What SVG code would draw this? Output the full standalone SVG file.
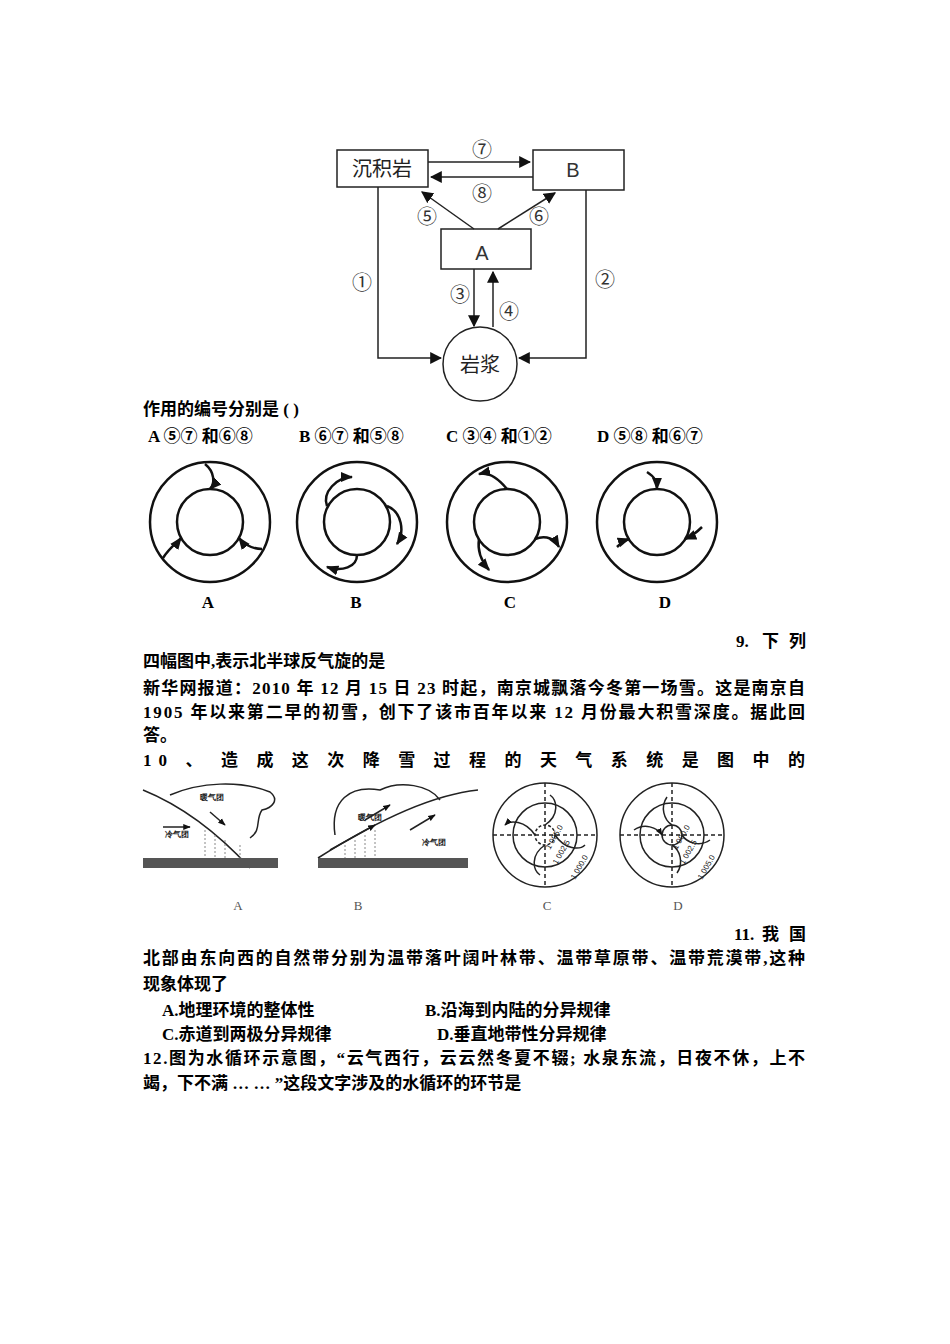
<svg xmlns="http://www.w3.org/2000/svg" width="950" height="1344" viewBox="0 0 950 1344">
<style>
.t{font-family:"Liberation Serif","Noto Sans CJK SC",serif;font-size:17px;font-weight:bold;fill:#000}
.d{font-family:"Noto Sans CJK SC",sans-serif;font-size:20px;fill:#222}
.n{font-family:"Liberation Sans","Noto Sans CJK SC",sans-serif;font-size:20px;fill:#333}
.s{fill:none;stroke:#222;stroke-width:1.5}
.th{fill:none;stroke:#111;stroke-width:2.5}
.sm{font-family:"Liberation Sans",sans-serif;font-size:8px;fill:#222}
.lb{font-family:"Liberation Serif",serif;font-size:13px;fill:#555}
</style>
<defs>
<marker id="a" viewBox="0 0 10 10" refX="9" refY="5" markerWidth="8" markerHeight="8" orient="auto"><path d="M0,0L10,5L0,10z" fill="#111"/></marker>
<marker id="b" viewBox="0 0 10 10" refX="9" refY="5" markerWidth="5" markerHeight="5" orient="auto"><path d="M0,1L10,5L0,9z" fill="#111"/></marker>
</defs>
<rect width="950" height="1344" fill="#fff"/>
<g id="n-sed"><rect x="337" y="150" width="91" height="37" class="s"/><text x="382" y="176" class="d" text-anchor="middle">沉积岩</text></g>
<g id="n-B"><rect x="533" y="150" width="91" height="40" class="s"/><text x="573" y="177" class="n" text-anchor="middle">B</text></g>
<g id="n-A"><rect x="441" y="229" width="90" height="40" class="s"/><text x="482" y="260" class="n" text-anchor="middle">A</text></g>
<g id="n-magma"><circle cx="480" cy="364" r="37" class="s"/><text x="480" y="372" class="d" text-anchor="middle">岩浆</text></g>
<g id="connectors" class="s">
<path d="M428,162H530" marker-end="url(#a)"/>
<path d="M533,177H431" marker-end="url(#a)"/>
<path d="M474,229L422,192" marker-end="url(#a)"/>
<path d="M498,229L555,193" marker-end="url(#a)"/>
<path d="M378,187V358H441" marker-end="url(#a)"/>
<path d="M586,190V358H519" marker-end="url(#a)"/>
<path d="M474,269V326" marker-end="url(#a)"/>
<path d="M493,327V272" marker-end="url(#a)"/>
</g>
<g class="n" font-size="26">
<text x="482" y="157" text-anchor="middle">⑦</text>
<text x="482" y="201" text-anchor="middle">⑧</text>
<text x="427" y="224" text-anchor="middle">⑤</text>
<text x="539" y="224" text-anchor="middle">⑥</text>
<text x="362" y="290" text-anchor="middle">①</text>
<text x="605" y="287" text-anchor="middle">②</text>
<text x="460" y="302" text-anchor="middle">③</text>
<text x="509" y="319" text-anchor="middle">④</text>
</g>
<text x="143" y="415" class="t">作用的编号分别是 ( )</text>
<g class="t"><text x="148" y="442">A ⑤⑦ 和⑥⑧</text><text x="299" y="442">B ⑥⑦ 和⑤⑧</text><text x="446" y="442">C ③④ 和①②</text><text x="597" y="442">D ⑤⑧ 和⑥⑦</text></g>
<g id="cyc">
<g transform="translate(210,522)"><circle r="60" class="th"/><circle r="33" class="th"/>
<path class="th" marker-end="url(#b)" d="M-5,-58C5,-50 5,-38 0,-33"/><path class="th" marker-end="url(#b)" d="M52,27C40,27 32,20 29,16"/><path class="th" marker-end="url(#b)" d="M-47,36C-40,25 -32,20 -29,16"/></g>
<g transform="translate(357,522)"><circle r="60" class="th"/><circle r="33" class="th"/>
<path class="th" marker-end="url(#b)" d="M-30,-16C-35,-30 -20,-45 -5,-45"/><path class="th" marker-end="url(#b)" d="M30,-16C45,-10 48,10 40,22"/><path class="th" marker-end="url(#b)" d="M0,33C0,45 -15,50 -30,45"/></g>
<g transform="translate(507,522)"><circle r="60" class="th"/><circle r="33" class="th"/>
<path class="th" marker-end="url(#b)" d="M0,-33C-10,-45 -20,-50 -28,-48"/><path class="th" marker-end="url(#b)" d="M28,17C40,12 48,18 52,25"/><path class="th" marker-end="url(#b)" d="M-28,17C-30,30 -25,40 -18,48"/></g>
<g transform="translate(657,522)"><circle r="60" class="th"/><circle r="33" class="th"/>
<path class="th" marker-end="url(#b)" d="M-10,-50C-2,-45 0,-40 0,-33"/><path class="th" marker-end="url(#b)" d="M45,5C38,12 33,15 28,17"/><path class="th" marker-end="url(#b)" d="M-40,25C-35,20 -31,18 -28,17"/></g>
<g class="t" font-size="15"><text x="208" y="608" text-anchor="middle">A</text><text x="356" y="608" text-anchor="middle">B</text><text x="510" y="608" text-anchor="middle">C</text><text x="665" y="608" text-anchor="middle">D</text></g>
</g>
<g class="t"><text x="736" y="647">9.</text><text x="762" y="647">下</text><text x="789" y="647">列</text></g>
<text x="143" y="667" class="t">四幅图中,表示北半球反气旋的是</text>
<text x="143" y="694" class="t" textLength="662">新华网报道：2010 年 12 月 15 日 23 时起，南京城飘落今冬第一场雪。这是南京自</text>
<text x="143" y="718" class="t" textLength="662">1905 年以来第二早的初雪，创下了该市百年以来 12 月份最大积雪深度。据此回</text>
<text x="143" y="741" class="t">答。</text>
<text x="143" y="766" class="t" textLength="662">10 、 造 成 这 次 降 雪 过 程 的 天 气 系 统 是 图 中 的</text>
<g id="fronts">
<g><path d="M143,790C180,805 215,830 250,868" class="s"/><path d="M170,795C200,782 240,780 270,792C280,800 272,808 262,810C255,820 262,830 250,838" class="s" fill="none"/>
<rect x="143" y="858" width="135" height="10" fill="#555"/><path d="M205,830V858M215,835V858M225,840V858M240,845V858" stroke="#888" stroke-dasharray="2,2"/>
<text x="200" y="800" class="sm" font-weight="bold">暖气团</text><text x="165" y="837" class="sm" font-weight="bold">冷气团</text>
<path d="M163,827H190" class="s" marker-end="url(#b)"/><path d="M210,812L225,825" class="s" marker-end="url(#b)"/><text x="238" y="910" class="lb" text-anchor="middle">A</text></g>
<g><path d="M318,858C370,825 430,795 478,790" class="s"/><path d="M335,835C330,800 350,785 380,790C400,780 430,785 440,800" class="s"/>
<rect x="318" y="858" width="150" height="10" fill="#555"/><path d="M345,845V858M355,840V858M365,835V858M375,830V858" stroke="#888" stroke-dasharray="2,2"/>
<text x="358" y="820" class="sm" font-weight="bold">暖气团</text><text x="422" y="845" class="sm" font-weight="bold">冷气团</text>
<path d="M330,850L375,825" class="s" marker-end="url(#b)"/><path d="M365,820L390,805" class="s" marker-end="url(#b)"/><path d="M410,830L435,815" class="s" marker-end="url(#b)"/><text x="358" y="910" class="lb" text-anchor="middle">B</text></g>
<g transform="translate(545,835)"><circle r="52" class="s"/><circle r="32" class="s"/><circle r="10" class="s" stroke-dasharray="3,2"/><path d="M-52,0H52M0,-52V52" class="s" stroke-dasharray="4,3"/>
<path d="M0,-10C15,-20 12,-35 5,-40M10,0C20,15 35,15 40,10M0,10C-15,20 -12,35 -5,40M-10,0C-20,-15 -35,-15 -40,-10" class="s" marker-end="url(#b)"/>
<text x="5" y="15" class="sm" transform="rotate(-60 5 15)">1 005.0</text><text x="12" y="30" class="sm" transform="rotate(-60 12 30)">1 002.5</text><text x="30" y="45" class="sm" transform="rotate(-60 30 45)">1 000.0</text></g>
<text x="547" y="910" class="lb" text-anchor="middle">C</text>
<g transform="translate(672,835)"><circle r="52" class="s"/><circle r="32" class="s"/><circle r="10" class="s"/><path d="M-52,0H52M0,-52V52" class="s" stroke-dasharray="4,3"/>
<path d="M-5,-38C-12,-28 -8,-15 0,-10M38,5C28,12 15,8 10,0M5,38C12,28 8,15 0,10M-38,-5C-28,-12 -15,-8 -10,0" class="s" marker-end="url(#b)"/>
<text x="5" y="15" class="sm" transform="rotate(-60 5 15)">1 000.0</text><text x="12" y="30" class="sm" transform="rotate(-60 12 30)">1 002.5</text><text x="30" y="45" class="sm" transform="rotate(-60 30 45)">1 005.0</text></g>
<text x="678" y="910" class="lb" text-anchor="middle">D</text>
</g>
<g class="t"><text x="734" y="940">11.</text><text x="762" y="940">我</text><text x="789" y="940">国</text></g>
<text x="143" y="964" class="t" textLength="662">北部由东向西的自然带分别为温带落叶阔叶林带、温带草原带、温带荒漠带,这种</text>
<text x="143" y="990" class="t">现象体现了</text>
<text x="162" y="1016" class="t">A.地理环境的整体性</text><text x="425" y="1016" class="t">B.沿海到内陆的分异规律</text>
<text x="162" y="1040" class="t">C.赤道到两极分异规律</text><text x="437" y="1040" class="t">D.垂直地带性分异规律</text>
<text x="143" y="1064" class="t" textLength="662">12.图为水循环示意图，“云气西行，云云然冬夏不辍; 水泉东流，日夜不休，上不</text>
<text x="143" y="1089" class="t">竭，下不满 … … ”这段文字涉及的水循环的环节是</text>
</svg>
